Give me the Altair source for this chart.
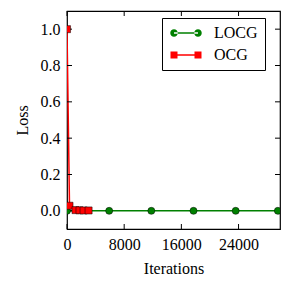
import altair as alt
import pandas as pd

series_names = ["LOCG", "OCG"]
series_colors = ["#008000", "#ff0000"]

locg_iter = [0, 5900, 11800, 17700, 23600, 29500]
locg_loss = [0.0, 0.0, 0.0, 0.0, 0.0, 0.0]

ocg_iter = [0, 350, 1190, 1750, 2320, 3020]
ocg_loss = [1.0, 0.028, 0.004, 0.003, 0.002, 0.002]

x_ticks = [0, 8000, 16000, 24000]
y_ticks = [0.0, 0.2, 0.4, 0.6, 0.8, 1.0]
x_domain = [0, 29800]
y_domain = [-0.1, 1.1]

W, H, TICK = 213, 218, 5

rows = []
for i, (xv, yv) in enumerate(zip(locg_iter, locg_loss)):
    rows.append({"series": "LOCG", "iter": xv, "loss": yv, "k": i})
for i, (xv, yv) in enumerate(zip(ocg_iter, ocg_loss)):
    rows.append({"series": "OCG", "iter": xv, "loss": yv, "k": i})
df = pd.DataFrame(rows)
xt_df = pd.DataFrame({"iter": x_ticks})
yt_df = pd.DataFrame({"loss": y_ticks})

FONT = "Liberation Serif"

xscale = alt.Scale(domain=x_domain, nice=False, zero=False)
yscale = alt.Scale(domain=y_domain, nice=False, zero=False)
cscale = alt.Scale(domain=series_names, range=series_colors)

# legend glyphs: thin bar (the line) + two markers, all filled
circ = lambda cx: (f"M{cx - 0.75},0 a0.75,0.75 0 1,0 1.5,0 a0.75,0.75 0 1,0 -1.5,0 Z")
circ_path = "M-2.4,-0.15 L2.4,-0.15 L2.4,0.15 L-2.4,0.15 Z " + circ(-2.4) + " " + circ(2.4)
sq_path = ("M-2.4,-0.15 L2.4,-0.15 L2.4,0.15 L-2.4,0.15 Z "
           "M-3.1,-0.7 L-1.7,-0.7 L-1.7,0.7 L-3.1,0.7 Z "
           "M1.7,-0.7 L3.1,-0.7 L3.1,0.7 L1.7,0.7 Z")

legend = alt.Legend(
    title=None, orient="none", legendX=95, legendY=7,
    fillColor="white", strokeColor="black",
    padding=7, labelFont=FONT, labelFontSize=16, labelColor="black",
    symbolSize=100, symbolOffset=9, labelOffset=20, rowPadding=6,
    symbolStrokeWidth=0, symbolOpacity=1,
    labelExpr="datum.label + '  '",
)

base = alt.Chart(df)

legend_layer = base.transform_filter("false").mark_point(filled=True, opacity=1).encode(
    color=alt.Color("series:N", scale=cscale, legend=legend),
    shape=alt.Shape("series:N", scale=alt.Scale(domain=series_names, range=[circ_path, sq_path]), legend=legend),
)

lines = base.mark_line(strokeWidth=1.5, clip=True).encode(
    x=alt.X("iter:Q", scale=xscale, title="Iterations", axis=alt.Axis(
        values=x_ticks, format="d", ticks=False, domain=False, grid=False,
        labelPadding=7, labelFlush=False, labelOverlap=False, titlePadding=8)),
    y=alt.Y("loss:Q", scale=yscale, title="Loss", axis=alt.Axis(
        values=y_ticks, format=".1f", ticks=False, domain=False, grid=False,
        labelPadding=7, labelFlush=False, labelOverlap=False, titlePadding=10)),
    color=alt.Color("series:N", scale=cscale),
    order="k:Q",
)

pts_locg = base.transform_filter(alt.datum.series == "LOCG").mark_point(
    shape="circle", filled=True, size=50, stroke="black", strokeWidth=0.5,
    opacity=1, clip=True
).encode(x="iter:Q", y="loss:Q", color=alt.Color("series:N", scale=cscale))

pts_ocg = base.transform_filter(alt.datum.series == "OCG").mark_point(
    shape="square", filled=True, size=50, stroke="black", strokeWidth=0.5,
    opacity=1, clip=True
).encode(x="iter:Q", y="loss:Q", color=alt.Color("series:N", scale=cscale))

tick_bottom = alt.Chart(xt_df).mark_rule(color="black", strokeWidth=1).encode(
    x="iter:Q", y=alt.value(H), y2=alt.value(H - TICK))
tick_top = alt.Chart(xt_df).mark_rule(color="black", strokeWidth=1).encode(
    x="iter:Q", y=alt.value(0), y2=alt.value(TICK))
tick_left = alt.Chart(yt_df).mark_rule(color="black", strokeWidth=1).encode(
    y="loss:Q", x=alt.value(0), x2=alt.value(TICK))
tick_right = alt.Chart(yt_df).mark_rule(color="black", strokeWidth=1).encode(
    y="loss:Q", x=alt.value(W), x2=alt.value(W - TICK))

chart = alt.layer(
    legend_layer, lines, tick_bottom, tick_top, tick_left, tick_right,
    pts_locg, pts_ocg
).properties(
    width=W, height=H,
    autosize=alt.AutoSizeParams(type="none"),
    padding={"left": 59, "top": 3, "right": 3, "bottom": 54},
    background="white",
).configure_view(
    stroke="black", strokeWidth=1.2
).configure_axis(
    labelFont=FONT, labelFontSize=16, labelColor="black",
    titleFont=FONT, titleFontSize=16, titleFontWeight="normal", titleColor="black",
)

chart.save("out.html", embed_options={"renderer": "svg", "actions": False})
